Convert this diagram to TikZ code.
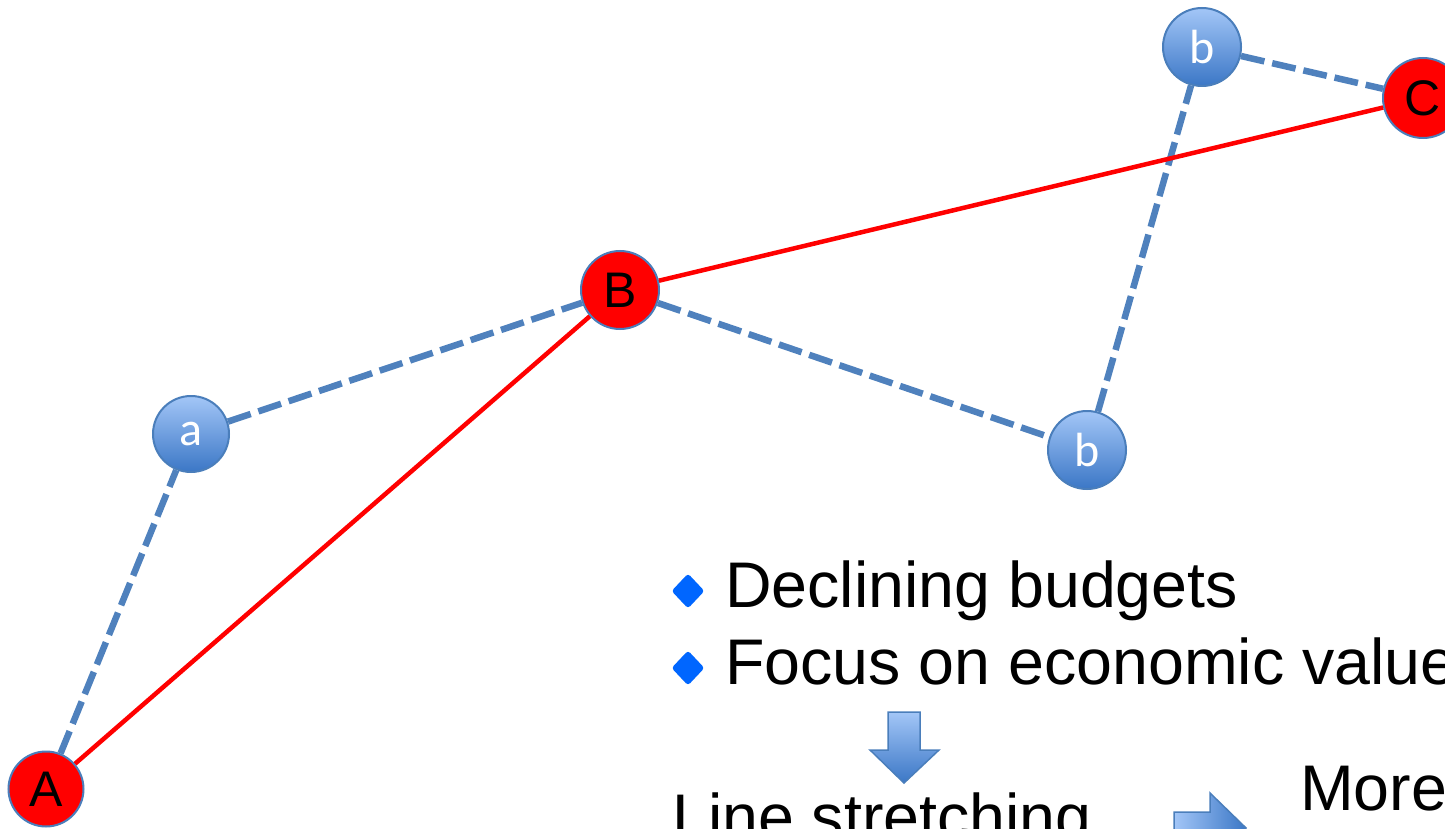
\documentclass[tikz,border=0pt]{standalone}
\usepackage{fontspec}
\setmainfont{Liberation Sans}
\newfontfamily\calfont{Carlito}
\usetikzlibrary{shapes.geometric}
\definecolor{edgeblue}{HTML}{4F81BD}
\definecolor{rimblue}{HTML}{4A7EBB}
\definecolor{topblue}{HTML}{A3C6F7}
\definecolor{botblue}{HTML}{3B77C6}
\definecolor{bulletblue}{HTML}{0066FF}
\tikzset{
  x=1pt, y=-1pt,
  rednode/.style={circle, draw=rimblue, line width=2pt, fill=red, minimum size=75pt,
    inner sep=0pt, font=\fontsize{50}{50}\selectfont, text=black},
  bluenode/.style={circle, draw=rimblue, line width=2pt, top color=topblue, bottom color=botblue,
    minimum size=76pt, inner sep=0pt, font=\calfont\fontsize{48}{48}\selectfont, text=white},
  redline/.style={draw=red, line width=4.5pt},
  blueline/.style={draw=edgeblue, line width=6.5pt, dash pattern=on 24pt off 8pt},
  bulletmark/.style={diamond, fill=bulletblue, minimum width=33pt, minimum height=35pt, inner sep=0pt, rounded corners=3pt},
  bigtext/.style={anchor=base west, inner sep=0pt, font=\fontsize{64.5}{64.5}\selectfont, text=black},
  blockarrow/.style={draw=rimblue, line width=1.5pt, top color=topblue, bottom color=botblue},
  blockarrowr/.style={draw=rimblue, line width=1.5pt, left color=topblue, right color=botblue},
}
\begin{document}
\begin{tikzpicture}
\useasboundingbox (0,0) rectangle (1445,829);
\clip (0,0) rectangle (1445,829);

\node[rednode] (A) at (46,789) {A};
\node[rednode, minimum size=78pt] (B) at (620,290) {B};
\node[rednode, minimum size=80pt] (C) at (1423,98) {C};
\node[bluenode] (a) at (191,434) {a};
\node[bluenode, minimum size=78pt] (b1) at (1087,450) {b};
\node[bluenode, minimum size=78pt] (b2) at (1202,47) {b};

% connectors
\path[blueline] (A) -- (a);
\path[blueline] (a) -- (B);
\path[blueline] (B) -- (b1);
\path[blueline] (b1) -- (b2);
\path[blueline] (b2) -- (C);
\path[redline] (A) -- (B);
\path[redline] (B) -- (C);

% bullets and text
\node[bulletmark] (d1) at (688,591) {};
\node[bulletmark] (d2) at (688,668) {};
\node[bigtext] (t1) at (725,607) {Declining budgets};
\node[bigtext] (t2) at (725,684) {Focus on economic value};
\node[bigtext] (t3) at (672,839) {Line stretching};
\node[bigtext] (t4) at (1300,810) {More};

% down block arrow
\path[blockarrow] (888,712) -- (920,712) -- (920,750) -- (939,750) -- (904,783)
  -- (870,750) -- (888,750) -- cycle;
% right block arrow
\path[blockarrowr] (1174,812) -- (1210,812) -- (1210,793) -- (1246,828) -- (1210,863)
  -- (1210,844) -- (1174,844) -- cycle;
\end{tikzpicture}
\end{document}
